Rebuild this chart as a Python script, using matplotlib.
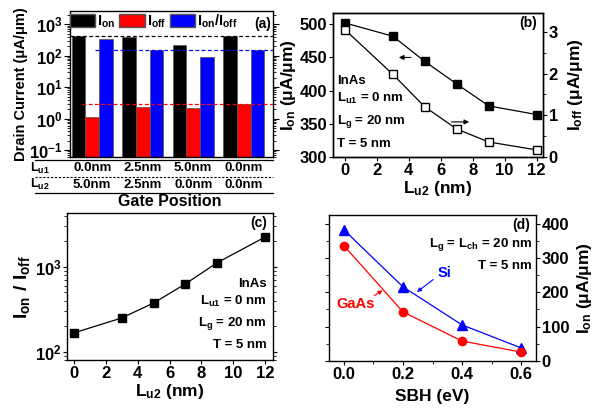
import numpy as np
import matplotlib
matplotlib.use("Agg")
import matplotlib.pyplot as plt
from matplotlib.patches import Patch
from matplotlib.ticker import MultipleLocator, LogLocator, NullFormatter

plt.rcParams['font.family'] = ['Liberation Sans', 'DejaVu Sans']
plt.rcParams['font.weight'] = 'bold'
plt.rcParams['mathtext.default'] = 'regular'
plt.rcParams['axes.linewidth'] = 1.0

# (a) gate position bars
groups = [0, 1, 2, 3]
lu1_labels = ["0.0nm", "2.5nm", "5.0nm", "0.0nm"]
lu2_labels = ["5.0nm", "2.5nm", "0.0nm", "0.0nm"]
ion_a = [420, 385, 210, 410]
ioff_a = [1.15, 2.25, 2.1, 2.9]
ratio_a = [340, 150, 90, 150]

# (b) Ion / Ioff vs Lu2
lu2 = [0, 3, 5, 7, 9, 12]
ion_b = [502, 482, 444, 410, 377, 364]
ioff_b = [3.05, 1.98, 1.2, 0.67, 0.36, 0.17]

# (c) Ion/Ioff ratio vs Lu2
ratio_c = [167, 250, 375, 630, 1120, 2240]

# (d) Ion vs SBH
sbh = [0.0, 0.2, 0.4, 0.6]
ion_si = [382, 216, 105, 38]
ion_gaas = [336, 143, 58, 26]

fig = plt.figure(figsize=(5.96, 4.08), dpi=100)
fs = 12      # tick labels
lfs = 12.5   # axis labels
afs = 9.5    # annotations

# ---------- panel (a)
ax = fig.add_axes([70/596, 1-157/408, 203/596, 146/408])
w = 0.27
x = np.array(groups, dtype=float)
ax.bar(x - w, ion_a, w, color='black', edgecolor='#555555', lw=0.5, bottom=1e-3)
ax.bar(x, ioff_a, w, color='red', edgecolor='#555555', lw=0.5, bottom=1e-3)
ax.bar(x + w, ratio_a, w, color='blue', edgecolor='#555555', lw=0.5, bottom=1e-3)
ax.set_yscale('log')
ax.set_ylim(0.06, 2600)
ax.set_xlim(-0.44, 3.58)
ax.axhline(ion_a[3], color='black', ls='--', lw=0.9, dashes=(3, 2))
ax.plot([-0.2, 3.58], [ioff_a[3]] * 2, color='red', ls='--', lw=0.9, dashes=(3, 2))
ax.plot([0.05, 3.58], [ratio_a[3]] * 2, color='blue', ls='--', lw=0.9, dashes=(3, 2))
ax.set_xticks([])
ax.yaxis.set_major_locator(LogLocator(base=10, numticks=10))
ax.yaxis.set_minor_locator(LogLocator(base=10, subs=np.arange(2, 10), numticks=10))
ax.yaxis.set_minor_formatter(NullFormatter())
ax.tick_params(axis='y', which='both', right=True, direction='out', labelsize=fs, pad=1)
ax.tick_params(axis='y', which='major', length=4)
ax.tick_params(axis='y', which='minor', length=2)
ax.set_ylabel('Drain Current (μA/μm)', fontsize=10.5, fontweight='bold', labelpad=1)
handles = [Patch(facecolor='black', edgecolor='#555555'),
           Patch(facecolor='red', edgecolor='#555555'),
           Patch(facecolor='blue', edgecolor='#555555')]
ax.legend(handles, ['$I_{on}$', '$I_{off}$', '$I_{on}/I_{off}$'], ncol=3, frameon=False,
          loc='upper left', bbox_to_anchor=(-0.045, 1.05), handlelength=1.75, handleheight=0.95,
          columnspacing=0.25, handletextpad=0.15, borderaxespad=0.2,
          prop={'size': 10.5, 'weight': 'bold'})
ax.text(0.99, 0.91, '(a)', transform=ax.transAxes, ha='right', va='center', fontsize=10)
tr = ax.get_xaxis_transform()
for xx, a1, a2 in zip(groups, lu1_labels, lu2_labels):
    ax.text(xx, -0.075, a1, transform=tr, ha='center', va='center', fontsize=9.5)
    ax.text(xx, -0.19, a2, transform=tr, ha='center', va='center', fontsize=9.5)
ax.text(-0.15, -0.075, '$L_{u1}$', transform=ax.transAxes, ha='center', va='center', fontsize=9)
ax.text(-0.15, -0.19, '$L_{u2}$', transform=ax.transAxes, ha='center', va='center', fontsize=9)
ax.plot([-0.172, 1.0], [-0.02, -0.02], transform=ax.transAxes, color='black', lw=0.9, clip_on=False)
ax.plot([-0.172, 1.0], [-0.137, -0.137], transform=ax.transAxes, color='black', lw=0.8,
        ls='--', dashes=(2, 1.5), clip_on=False)
ax.plot([-0.172, 1.0], [-0.245, -0.245], transform=ax.transAxes, color='black', lw=0.9, clip_on=False)
ax.text(0.49, -0.305, 'Gate Position', transform=ax.transAxes, ha='center', va='center', fontsize=11.5)

# ---------- panel (b)
bx = fig.add_axes([333/596, 1-157/408, 210/596, 144/408])
bx.plot(lu2, ion_b, '-s', color='black', ms=5.5, lw=0.9)
bx.set_xlim(-0.75, 12.4)
bx.set_ylim(300, 517)
bx.xaxis.set_major_locator(MultipleLocator(2))
bx.yaxis.set_major_locator(MultipleLocator(50))
bx.tick_params(labelsize=fs, direction='out', length=3, pad=1)
bx.set_ylabel('$I_{on}$ (μA/μm)', fontsize=lfs, fontweight='bold', labelpad=1)
bx.set_xlabel('$L_{u2}$ (nm)', fontsize=lfs, fontweight='bold', labelpad=1)
bx2 = bx.twinx()
bx2.plot(lu2, ioff_b, '-s', color='black', mfc='white', ms=5.5, lw=0.9)
bx2.set_ylim(0, 3.45)
bx2.yaxis.set_major_locator(MultipleLocator(1))
bx2.yaxis.set_minor_locator(MultipleLocator(0.5))
bx2.tick_params(labelsize=fs, direction='out', length=3, pad=1)
bx2.tick_params(which='minor', length=2)
bx2.set_ylabel('$I_{off}$ (μA/μm)', fontsize=lfs, fontweight='bold', labelpad=6)
bx.annotate('', xy=(3.2, 450), xytext=(4.3, 450),
            arrowprops=dict(arrowstyle='-|>', color='black', lw=0.8, mutation_scale=7))
bx2.annotate('', xy=(7.95, 0.84), xytext=(6.5, 0.84),
             arrowprops=dict(arrowstyle='-|>', color='black', lw=0.8, mutation_scale=7))
for s, yy in zip(['InAs', '$L_{u1}$ = 0 nm', '$L_{g}$ = 20 nm', 'T = 5 nm'], [0.53, 0.405, 0.245, 0.09]):
    bx.text(0.02, yy, s, transform=bx.transAxes, ha='left', va='center', fontsize=afs)
bx.text(0.97, 0.93, '(b)', transform=bx.transAxes, ha='right', va='center', fontsize=10)

# ---------- panel (c)
cx = fig.add_axes([67/596, 48/408, 206/596, 147/408])
cx.plot(lu2, ratio_c, '-s', color='black', ms=5.5, lw=0.9)
cx.set_yscale('log')
cx.set_xlim(-0.44, 12.5)
cx.set_ylim(80, 4300)
cx.xaxis.set_major_locator(MultipleLocator(2))
cx.yaxis.set_minor_locator(LogLocator(base=10, subs=np.arange(2, 10), numticks=10))
cx.yaxis.set_minor_formatter(NullFormatter())
cx.tick_params(labelsize=fs, direction='out', length=3, pad=1)
cx.tick_params(axis='y', which='both', right=True)
cx.tick_params(axis='y', which='minor', length=2)
cx.set_ylabel('$I_{on}$ / $I_{off}$', fontsize=14, fontweight='bold', labelpad=2)
cx.set_xlabel('$L_{u2}$ (nm)', fontsize=lfs, fontweight='bold', labelpad=1)
for s, yy in zip(['InAs', '$L_{u1}$ = 0 nm', '$L_{g}$ = 20 nm', 'T = 5 nm'], [0.52, 0.4, 0.25, 0.1]):
    cx.text(0.97, yy, s, transform=cx.transAxes, ha='right', va='center', fontsize=afs)
cx.text(0.97, 0.93, '(c)', transform=cx.transAxes, ha='right', va='center', fontsize=10)

# ---------- panel (d)
dx = fig.add_axes([329/596, 47/408, 207/596, 146/408])
dx.plot(sbh, ion_si, '-^', color='blue', ms=6.5, lw=0.9)
dx.plot(sbh, ion_gaas, '-o', color='red', ms=6, lw=0.9)
dx.set_xlim(-0.05, 0.65)
dx.set_ylim(0, 425)
dx.xaxis.set_major_locator(MultipleLocator(0.2))
dx.xaxis.set_minor_locator(MultipleLocator(0.1))
dx.yaxis.set_major_locator(MultipleLocator(100))
dx.yaxis.set_minor_locator(MultipleLocator(50))
dx.xaxis.set_major_formatter(matplotlib.ticker.FormatStrFormatter('%.1f'))
dx.yaxis.tick_right()
dx.yaxis.set_label_position('right')
dx.tick_params(labelsize=fs, direction='out', length=3, pad=1)
dx.tick_params(axis='y', which='both', left=True, right=True)
dx.tick_params(which='minor', length=2)
dx.set_ylabel('$I_{on}$ (μA/μm)', fontsize=lfs, fontweight='bold', labelpad=4)
dx.set_xlabel('SBH (eV)', fontsize=lfs, fontweight='bold', labelpad=5)
dx.text(0.97, 0.93, '(d)', transform=dx.transAxes, ha='right', va='center', fontsize=10)
dx.text(0.98, 0.80, '$L_{g}$ = $L_{ch}$ = 20 nm', transform=dx.transAxes, ha='right', va='center', fontsize=afs)
dx.text(0.98, 0.65, 'T = 5 nm', transform=dx.transAxes, ha='right', va='center', fontsize=afs)
dx.text(0.342, 257, 'Si', color='blue', ha='center', va='center', fontsize=10.5)
dx.annotate('', xy=(0.24, 196), xytext=(0.31, 242),
            arrowprops=dict(arrowstyle='-|>', color='blue', lw=0.8, mutation_scale=6))
dx.text(0.04, 166, 'GaAs', color='red', ha='center', va='center', fontsize=10.5)
dx.annotate('', xy=(0.139, 210), xytext=(0.095, 186),
            arrowprops=dict(arrowstyle='-|>', color='red', lw=0.8, mutation_scale=6))

for a in [ax, bx, bx2, cx, dx]:
    for t in a.get_xticklabels() + a.get_yticklabels():
        t.set_fontweight('bold')

fig.savefig('out.png', dpi=100)
